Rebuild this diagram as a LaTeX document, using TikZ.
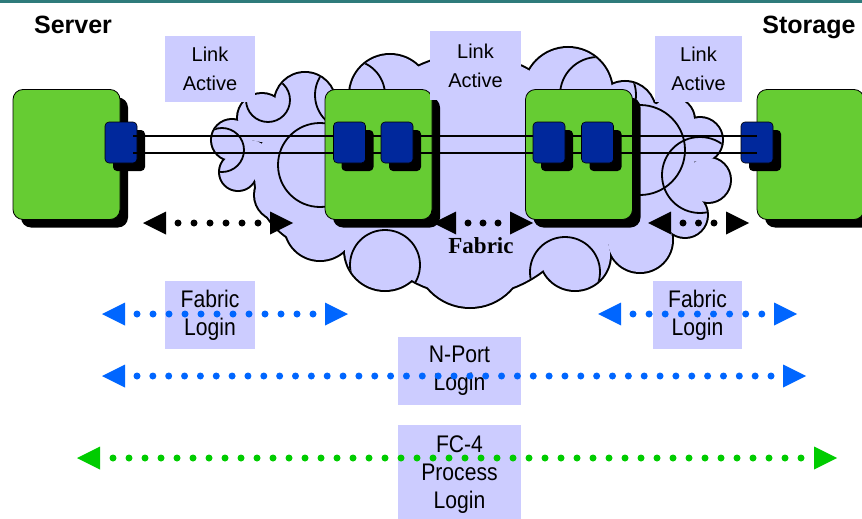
\documentclass[tikz,border=0pt]{standalone}
\usepackage{fontspec}
\setmainfont{Liberation Sans}
\newfontfamily\fabricfont{Liberation Serif}
\newfontfamily\loginfont{Liberation Sans}[FakeStretch=0.88]
\usepackage{tikz}
\usetikzlibrary{arrows.meta,shadows}

\definecolor{boxgreen}{HTML}{66CC33}
\definecolor{portblue}{HTML}{00289C}
\definecolor{cloudlav}{HTML}{CCCCFF}
\definecolor{loginblue}{HTML}{0066FF}
\definecolor{procgreen}{HTML}{00CC00}
\definecolor{topteal}{HTML}{2E7B7B}

\begin{document}
\begin{tikzpicture}[
    x=1pt, y=-1pt,
    device/.style={draw=black, line width=0.8pt, fill=boxgreen, rounded corners=10pt,
        minimum width=107pt, minimum height=130pt, inner sep=0pt,
        drop shadow={shadow xshift=8pt, shadow yshift=-8pt, opacity=1, fill=black}},
    port/.style={draw=black, line width=0.6pt, fill=portblue, rounded corners=4pt,
        minimum width=32pt, minimum height=41pt, inner sep=0pt,
        drop shadow={shadow xshift=8pt, shadow yshift=-8pt, opacity=1, fill=black}},
    linkbox/.style={fill=cloudlav, align=center, inner sep=0pt,
        font=\fontsize{20}{29}\selectfont},
    loginbox/.style={fill=cloudlav, align=center, inner sep=0pt,
        font=\loginfont\fontsize{24}{28}\selectfont},
    link/.style={line width=2.6pt, black},
    dotline/.style 2 args={line width=7pt, line cap=round,
        dash pattern=on 0pt off #1, dash phase=#2,
        arrows={Triangle[length=23pt,width=23pt,line width=0pt]-Triangle[length=23pt,width=23pt,line width=0pt]}},
    sitelabel/.style={font=\bfseries\fontsize{25}{27}\selectfont, anchor=base}
]

\useasboundingbox (0,0) rectangle (862,519);
\fill[white] (0,0) rectangle (862,519);

% -------------------------------------------------
% Top rule and titles
% -------------------------------------------------

\fill[topteal] (0,0) rectangle (862,3);

\node[sitelabel] (srvtitle) at (73,34) {Server};
\node[sitelabel] (stortitle) at (809,34) {Storage};

% -------------------------------------------------
% Fabric cloud (outline pass, fill pass, inner arcs)
% -------------------------------------------------

\def\cloudlobes{470/175/120, 330/175/75, 620/170/75,
    232/140/20, 238/172/18, 250/160/20, 262/118/24, 305/103/30,
    390/95/40, 475/90/40, 568/92/44, 625/112/30, 672/120/22,
    700/140/22, 708/180/22, 685/215/22, 640/240/32, 575/255/35,
    470/252/55, 385/250/40, 320/225/35, 280/195/25}

\foreach \cx/\cy/\cr in \cloudlobes{
    \draw[black, line width=4pt] (\cx,\cy) circle[radius=\cr];
}
\foreach \cx/\cy/\cr in \cloudlobes{
    \fill[cloudlav] (\cx,\cy) circle[radius=\cr];
}

\begin{scope}
    \clip \foreach \cx/\cy/\cr in \cloudlobes{ (\cx,\cy) circle[radius=\cr] };
    \foreach \cx/\cy/\cr in {222/150/22, 268/100/22, 320/165/42, 350/95/35,
        385/265/35, 598/95/38, 640/150/45, 700/175/38, 565/272/35}{
        \draw[black, line width=1.8pt] (\cx,\cy) circle[radius=\cr];
    }
\end{scope}

% -------------------------------------------------
% Devices
% -------------------------------------------------

\node[device] (server) at (66.5,154.5) {};
\node[device] (swA) at (378.5,154.5) {};
\node[device] (swB) at (579,154.5) {};
\node[device] (storage) at (810.5,154.5) {};

\node[port] (srvport) at (121,142.5) {};
\node[port] (storport) at (757,142.5) {};

% Link pair
\draw[link] ([xshift=12pt,yshift=6.5pt]srvport.center) -- ([yshift=6.5pt]storport.center);
\draw[link] ([xshift=12pt,yshift=-10.5pt]srvport.center) -- ([yshift=-10.5pt]storport.center);

\node[port] (swAin) at (349.5,142.5) {};
\node[port] (swAout) at (397,142.5) {};
\node[port] (swBin) at (549,142.5) {};
\node[port] (swBout) at (597.5,142.5) {};

% -------------------------------------------------
% Link Active labels
% -------------------------------------------------

\node[linkbox, minimum width=90pt, minimum height=66pt] (linkL) at (210,69) {Link\\Active};
\node[linkbox, minimum width=91pt, minimum height=69pt] (linkM) at (475.5,65.5) {Link\\Active};
\node[linkbox, minimum width=87pt, minimum height=66pt] (linkR) at (698.5,69) {Link\\Active};

% -------------------------------------------------
% Link level arrows
% -------------------------------------------------

\coordinate (blkL1) at (143,223);
\coordinate (blkL2) at (293,223);
\coordinate (blkM1) at (433,223);
\coordinate (blkM2) at (533,223);
\coordinate (blkR1) at (648,223);
\coordinate (blkR2) at (749,223);

\draw[dotline={16pt}{4pt}, black] (blkL1) -- (blkL2);
\draw[dotline={15pt}{3pt}, black] (blkM1) -- (blkM2);
\draw[dotline={15.5pt}{3.5pt}, black] (blkR1) -- (blkR2);

\node[font=\fabricfont\bfseries\fontsize{23}{25}\selectfont, anchor=base] (fabric) at (481,253) {Fabric};

% -------------------------------------------------
% Login levels
% -------------------------------------------------

\node[loginbox, minimum width=90pt, minimum height=68pt] (flogL) at (210,315) {Fabric\\Login};
\node[loginbox, minimum width=89pt, minimum height=68pt] (flogR) at (697.5,315) {Fabric\\Login};
\node[loginbox, minimum width=123pt, minimum height=68pt] (nport) at (459.5,371) {N-Port\\Login};
\node[loginbox, minimum width=123pt, minimum height=100pt] (fcproc) at (459.5,475) {FC-4\\Process\\Login};

\coordinate (flogL1) at (102,314);
\coordinate (flogL2) at (348,314);
\coordinate (flogR1) at (598,314);
\coordinate (flogR2) at (797,314);
\coordinate (nport1) at (102,376);
\coordinate (nport2) at (806,376);
\coordinate (fcproc1) at (77,458);
\coordinate (fcproc2) at (837,458);

\draw[dotline={16pt}{4pt}, loginblue] (flogL1) -- (flogL2);
\draw[dotline={16.1pt}{4.1pt}, loginblue] (flogR1) -- (flogR2);
\draw[dotline={15.85pt}{3.85pt}, loginblue] (nport1) -- (nport2);
\draw[dotline={16pt}{3pt}, procgreen] (fcproc1) -- (fcproc2);

\end{tikzpicture}
\end{document}
